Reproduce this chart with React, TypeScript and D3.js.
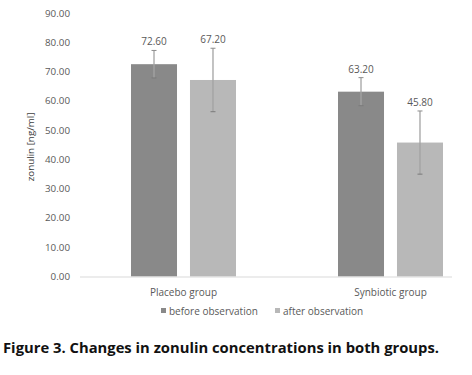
import React from "react";
import * as d3 from "d3";

const categories = ["Placebo group", "Synbiotic group"];
const seriesNames = ["before observation", "after observation"];
const beforeValues = [72.6, 63.2];
const afterValues = [67.2, 45.8];
const beforeErrors = [4.7, 4.8];
const afterErrors = [10.85, 10.8];
const yTicks = [0, 10, 20, 30, 40, 50, 60, 70, 80, 90];
const seriesColors = ["#898989", "#b8b8b8"];

export default function App() {
  const W = 472, H = 375;
  const y = d3.scaleLinear().domain([0, 90]).range([276.5, 13.3]);
  const x0 = d3.scaleBand<string>().domain(categories).range([80, 494]);
  const groupW = 105;
  const x1 = d3.scaleBand<string>().domain(seriesNames).range([0, groupW]).paddingInner(0.22);
  const groupOffset = (x0.bandwidth() - groupW) / 2;
  const series = [
    { name: seriesNames[0], values: beforeValues, errors: beforeErrors, color: seriesColors[0] },
    { name: seriesNames[1], values: afterValues, errors: afterErrors, color: seriesColors[1] },
  ];
  const font = "'Open Sans', 'Noto Sans', sans-serif";
  const txt = "#595959";
  return (
    <svg width={W} height={H} style={{ position: "absolute", left: 0, top: 0, background: "#fff" }} fontFamily={font}>
      {yTicks.map((t) => (
        <text key={t} x={70} y={y(t)} dy="0.35em" textAnchor="end" fontSize={9.8} fill={txt}>
          {t.toFixed(2)}
        </text>
      ))}
      <text transform={`translate(34,${(y(0) + y(90)) / 2 + 2}) rotate(-90)`} textAnchor="middle" fontSize={9.8} fill="#404040">
        zonulin [ng/ml]
      </text>
      {series.map((s) =>
        categories.map((c, i) => {
          const bx = (x0(c) as number) + groupOffset + (x1(s.name) as number);
          const bw = x1.bandwidth();
          const cx = bx + bw / 2;
          const v = s.values[i];
          const e = s.errors[i];
          return (
            <g key={s.name + c}>
              <rect x={bx} y={y(v)} width={bw} height={y(0) - y(v)} fill={s.color} />
              <line x1={cx} x2={cx} y1={y(v + e)} y2={y(v - e)} stroke="#a3a3a3" strokeWidth={1.3} />
              <line x1={cx - 2.5} x2={cx + 2.5} y1={y(v + e)} y2={y(v + e)} stroke="#8c8c8c" strokeWidth={1} />
              <line x1={cx - 2.5} x2={cx + 2.5} y1={y(v - e)} y2={y(v - e)} stroke="#7a7a7a" strokeWidth={1} />
              <text x={cx} y={y(v + e) - 5} textAnchor="middle" fontSize={10} fill={txt}>
                {v.toFixed(2)}
              </text>
            </g>
          );
        })
      )}
      <line x1={80} x2={452} y1={y(0) + 0.5} y2={y(0) + 0.5} stroke="#d9d9d9" strokeWidth={1} />
      {categories.map((c) => (
        <text key={c} x={(x0(c) as number) + x0.bandwidth() / 2} y={296} textAnchor="middle" fontSize={10} fill={txt}>
          {c}
        </text>
      ))}
      <g>
        <rect x={161} y={308} width={5} height={5} fill={seriesColors[0]} />
        <text x={169} y={315} fontSize={10} fill={txt}>{seriesNames[0]}</text>
        <rect x={275} y={308} width={5} height={5} fill={seriesColors[1]} />
        <text x={283} y={315} fontSize={10} fill={txt}>{seriesNames[1]}</text>
      </g>
      <text x={3} y={353} fontSize={14} fontWeight="bold" fill="#111" fontFamily="'Open Sans', sans-serif" textLength={436} lengthAdjust="spacingAndGlyphs">
        Figure 3. Changes in zonulin concentrations in both groups.
      </text>
    </svg>
  );
}
